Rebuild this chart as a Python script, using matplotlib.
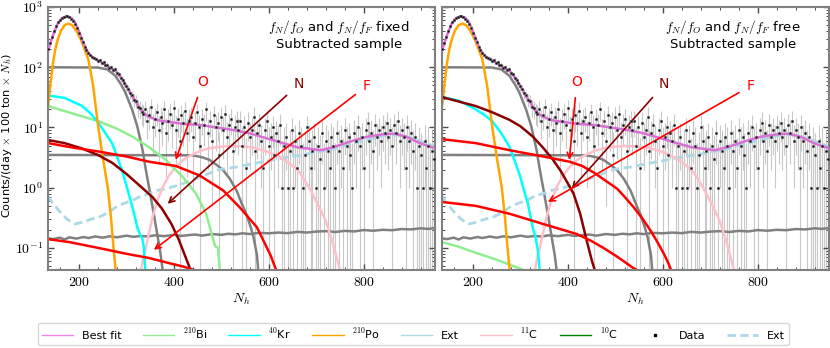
"""
Nh spectrum of the subtracted sample with the fitted components,
f_N/f_O and f_N/f_F fixed (left) and free (right).
"""
import math

import matplotlib

matplotlib.use("Agg")
import matplotlib.pyplot as plt
from matplotlib.lines import Line2D
from matplotlib.ticker import AutoMinorLocator, FixedLocator, FuncFormatter, LogLocator, NullFormatter

plt.rcParams["font.family"] = ["DejaVu Sans"]
plt.rcParams["mathtext.fontset"] = "cm"

# ---- data points (Nh bin, counts, error) ----
data_x = list(range(136, 952, 4))
data_y = [
    200, 250, 320, 400, 480, 560, 620, 660, 690, 710, 700, 680, 640, 590, 520, 450, 370, 310, 260, 220, 190, 170, 158, 150, 142,
    138, 128, 132, 118, 120, 108, 110, 98, 102, 90, 92, 80, 76, 66, 62, 55, 48, 44, 37, 34, 29, 28, 22, 21, 18,
    17, 20, 13, 16, 22, 10, 14, 18, 9, 15, 12, 20, 8, 13, 17, 11, 21, 9, 14, 6, 16, 12, 19, 8, 13,
    15, 7, 12, 18, 10, 5, 14, 11, 20, 8, 13, 6, 16, 10, 12, 3.5, 15, 9, 17, 7, 11, 14, 4, 10, 13,
    9, 13, 5, 10, 2.1, 12, 7, 9, 15, 4, 8, 11, 6, 2.1, 9, 13, 5, 7, 10, 3.5, 8, 6, 11, 1.0, 5,
    7, 1.0, 4, 9, 1.0, 6, 2.1, 8, 5, 1.0, 3.5, 10, 6, 2.1, 4, 7, 1.0, 5, 3, 8, 1.0, 6, 4, 2.1, 7,
    5, 1.0, 8, 4, 6, 2.1, 9, 5, 7, 3.5, 1.0, 8, 6, 10, 5, 7, 2.1, 9, 12, 6, 8, 4, 11, 7, 9,
    6, 10, 8, 12, 7, 9, 5, 11, 8, 13, 6, 9, 7, 2.1, 10, 6, 8, 4, 7, 1.0, 5, 3.5, 1.0, 6, 2.1, 5, 1.0, 4, 3,
]
data_err = [
    14, 16, 18, 20, 22, 24, 25, 26, 26, 27, 26, 26, 25, 24, 23, 21, 19, 18, 16, 15, 14, 13, 12, 12, 12,
    11, 11, 11, 10, 10, 10, 10, 9, 9, 9, 9, 8, 8, 8, 7.5, 7.5, 7, 7, 7, 7, 7, 7, 7, 7, 7,
    7, 7.5, 6.5, 7, 8, 6.5, 7, 7.5, 6.5, 7, 7, 8, 6.5, 7, 7.5, 6.5, 8, 6.5, 7, 6, 7.5, 7, 8, 6.5, 7,
    6.5, 6, 6, 7, 6, 5.5, 6.5, 6, 7, 6, 6, 5.5, 6.5, 6, 6, 5, 6.5, 6, 7, 5.5, 6, 6.5, 5, 6, 6,
    5.5, 6, 5, 5.5, 4.5, 6, 5, 5.5, 6.5, 5, 5, 6, 5, 4.5, 5.5, 6, 5, 5, 5.5, 4.5, 5, 5, 6, 4.5, 5,
    5, 4.5, 5, 5.5, 4.5, 5, 4.5, 5.5, 5, 4.5, 5, 5.5, 5, 4.5, 5, 5, 4.5, 5, 4.5, 5.5, 4.5, 5, 5, 4.5, 5,
    5, 4.5, 5.5, 5, 5, 4.5, 5.5, 5, 5, 4.5, 4.5, 5.5, 5, 6, 5, 5, 4.5, 5.5, 6, 5, 5.5, 5, 6, 5, 5.5,
    5, 6, 5.5, 6, 5, 5.5, 5, 6, 5.5, 6, 5, 5.5, 5, 4.5, 6, 5, 5.5, 5, 5, 4.5, 5, 4.5, 4.5, 5, 4.5, 5, 4.5, 5, 4.5,
]

# ---- fit components shared by both panels ----
fit_x = [135, 145, 155, 165, 175, 183, 190, 198, 206, 214, 222, 230, 241, 252, 263, 277, 288, 298, 305, 312,
         320, 328, 338, 348, 365, 385, 420, 455, 490, 525, 560, 596, 630, 660, 688, 710, 736, 770, 806, 840,
         865, 890, 918, 950]
fit_y = [190, 330, 520, 660, 700, 670, 590, 440, 300, 210, 165, 145, 130, 115, 100, 88, 68, 52, 42, 33,
         27, 21, 17, 15, 13.3, 12.5, 11.5, 11, 10, 9.1, 8, 6.6, 5.5, 4.7, 4.4, 4.2, 4.7, 5.8, 7, 7.7,
         7.9, 7, 5.5, 4.5]

po_x = [135, 140, 145, 150, 155, 162, 170, 178, 186, 195, 205, 213, 220, 230, 241, 251, 261, 268, 273, 278]
po_y = [22, 50, 110, 190, 280, 400, 500, 530, 500, 400, 280, 190, 135, 50, 10, 3, 1, 0.3, 0.1, 0.04]

gray_big_x = [135, 240, 260, 277, 290, 298, 312, 323, 334, 341, 348, 358, 365, 372, 377]
gray_big_y = [100, 99, 92, 72, 50, 38, 20, 10.5, 4.3, 2, 1, 0.36, 0.17, 0.08, 0.04]

gray_mid_x = [135, 440, 460, 475, 490, 504, 518, 532, 545, 553, 562, 568, 575, 578]
gray_mid_y = [3.5, 3.45, 3.2, 2.9, 2.4, 1.95, 1.4, 0.9, 0.5, 0.36, 0.22, 0.15, 0.077, 0.04]

gray_low_x = [135, 145, 160, 170, 180, 195, 210, 220, 235, 250, 265, 280, 300, 315, 330, 345, 360, 380, 400,
              415, 430, 445, 460, 480, 500, 515, 530, 545, 560, 580, 600, 620, 640, 660, 680, 700, 720, 740,
              760, 780, 800, 820, 840, 860, 880, 900, 920, 935, 950]
gray_low_y = [0.145, 0.14, 0.148, 0.138, 0.15, 0.143, 0.152, 0.146, 0.155, 0.148, 0.156, 0.15, 0.16, 0.153,
              0.158, 0.155, 0.162, 0.157, 0.165, 0.158, 0.163, 0.167, 0.16, 0.17, 0.165, 0.172, 0.168, 0.175,
              0.17, 0.178, 0.175, 0.18, 0.176, 0.185, 0.18, 0.187, 0.19, 0.184, 0.192, 0.188, 0.198, 0.193,
              0.2, 0.197, 0.206, 0.203, 0.212, 0.207, 0.214]

c11_x = [330, 335, 341, 348, 355, 365, 376, 390, 404, 420, 440, 460, 480, 510, 540, 570, 600, 625, 645, 665,
         685, 705, 720, 735, 745, 751]
c11_y = [0.04, 0.065, 0.1, 0.18, 0.32, 0.6, 1.0, 1.6, 2.2, 2.9, 3.6, 4.2, 4.6, 4.9, 4.9, 4.6, 3.9, 3.2, 2.5,
         1.8, 1.0, 0.5, 0.28, 0.12, 0.06, 0.04]

ext_x = [135, 145, 160, 175, 192, 210, 225, 241, 260, 277, 295, 312, 330, 348, 365, 383, 400, 419, 436, 454,
         472, 490, 510, 532, 560, 589, 620, 646, 670, 700, 736, 770, 806, 840, 870, 900, 925, 950]
ext_y = [0.72, 0.55, 0.4, 0.3, 0.25, 0.27, 0.3, 0.32, 0.38, 0.47, 0.55, 0.61, 0.72, 0.8, 0.9, 0.96, 1.05,
         1.17, 1.3, 1.5, 1.7, 1.95, 2.1, 2.2, 2.45, 2.7, 3.0, 3.3, 3.5, 3.9, 4.4, 5.3, 6.2, 7.3, 7.6, 6.8,
         5.7, 4.8]

# ---- components that differ between the two fits ----
kr_fixed_x = [135, 170, 206, 225, 241, 256, 270, 281, 291, 300, 309, 316, 323, 330, 334, 337, 340]
kr_fixed_y = [34, 31, 23, 17, 12, 8, 5.5, 3.2, 1.95, 1.1, 0.61, 0.38, 0.22, 0.16, 0.14, 0.1, 0.04]
kr_free_x = [135, 170, 206, 225, 241, 260, 277, 288, 298, 307, 316, 326, 332, 337, 341]
kr_free_y = [32, 28, 20, 16, 12.7, 8, 4.8, 2.8, 1.7, 0.95, 0.54, 0.22, 0.15, 0.09, 0.04]

bi_fixed_x = [135, 170, 206, 241, 277, 312, 348, 383, 419, 447, 468, 482, 487, 493, 497]
bi_fixed_y = [22.7, 18.7, 15.4, 12.7, 9.8, 7.1, 4.7, 2.9, 1.5, 0.79, 0.37, 0.148, 0.107, 0.1, 0.04]
bi_free_x = [135, 170, 206, 240, 277, 300, 315]
bi_free_y = [0.125, 0.105, 0.083, 0.068, 0.053, 0.045, 0.04]

n_fixed_x = [135, 170, 206, 240, 270, 300, 330, 355, 375, 395, 410, 422, 432, 437]
n_fixed_y = [6.2, 5.5, 4.5, 3.5, 2.6, 1.7, 1.05, 0.7, 0.45, 0.25, 0.14, 0.08, 0.05, 0.04]
n_free_x = [135, 170, 206, 240, 277, 300, 326, 348, 369, 385, 397, 412, 426, 440, 451, 458]
n_free_y = [32, 27, 22.7, 18, 13.4, 10.5, 7.1, 4.6, 2.9, 1.9, 1.3, 0.8, 0.37, 0.13, 0.06, 0.04]

o_fixed_x = [135, 190, 241, 300, 348, 404, 454, 504, 539, 575, 603, 617]
o_fixed_y = [5.5, 4.6, 4.0, 3.3, 2.7, 2.3, 1.6, 0.9, 0.47, 0.22, 0.078, 0.04]
o_free_x = [135, 206, 277, 348, 404, 430, 454, 480, 504, 520, 539, 558, 575, 590, 603, 612, 619]
o_free_y = [6.4, 5.5, 4.2, 3.3, 2.7, 2.3, 1.8, 1.3, 0.96, 0.7, 0.47, 0.3, 0.19, 0.12, 0.078, 0.055, 0.04]

f_fixed_x = [135, 180, 241, 300, 348, 390, 420, 447, 455]
f_fixed_y = [0.14, 0.125, 0.1, 0.08, 0.068, 0.056, 0.049, 0.042, 0.04]
f_free_x = [135, 206, 277, 348, 419, 450, 475, 500, 518, 535, 552]
f_free_y = [0.58, 0.5, 0.37, 0.25, 0.17, 0.13, 0.1, 0.075, 0.06, 0.048, 0.04]

# label, text position, arrow tip, colour
marks_fixed = [("O", (461, 56), (404, 2.9), "red"),
               ("N", (663, 52), (387, 0.54), "darkred"),
               ("F", (806, 49), (358, 0.093), "red")]
marks_free = [("O", (419, 56), (403, 2.9), "red"),
              ("N", (603, 52), (408, 0.96), "darkred"),
              ("F", (785, 49), (358, 0.58), "red")]


def draw_panel(ax, kr, bi, n, o, f, note, marks):
    ax.errorbar(data_x, data_y, yerr=data_err, fmt="none", ecolor="#c8c8c8", elinewidth=0.8, zorder=1)

    ax.plot(gray_big_x, gray_big_y, color="gray", lw=1.8, zorder=2)
    ax.plot(gray_mid_x, gray_mid_y, color="gray", lw=1.8, zorder=2)
    ax.plot(gray_low_x, gray_low_y, color="gray", lw=1.8, zorder=2)
    ax.plot(ext_x, ext_y, color="lightblue", lw=2, dashes=(3, 1.6), zorder=2)
    ax.plot(c11_x, c11_y, color="pink", lw=1.8, zorder=2)
    ax.plot(bi[0], bi[1], color="lightgreen", lw=1.8, zorder=2)
    ax.plot(kr[0], kr[1], color="cyan", lw=1.8, zorder=2)
    ax.plot(po_x, po_y, color="orange", lw=1.8, zorder=2)
    ax.plot(n[0], n[1], color="darkred", lw=1.8, zorder=2)
    ax.plot(o[0], o[1], color="red", lw=1.8, zorder=2)
    ax.plot(f[0], f[1], color="red", lw=1.8, zorder=2)
    ax.plot(fit_x, fit_y, color="orchid", lw=1.8, zorder=3)
    ax.plot(data_x, data_y, "s", ms=2.0, mfc="black", mec="0.35", mew=0.4, zorder=4)

    for label, txt, tip, color in marks:
        ax.annotate(label, xy=tip, xytext=txt, color=color, fontsize=10, ha="center", va="center",
                    arrowprops=dict(arrowstyle="->", color=color, lw=1.2, shrinkA=4, shrinkB=0))

    ax.text(0.752, 0.897, note + "\nSubtracted sample", transform=ax.transAxes,
            ha="center", va="center", fontsize=9.5, linespacing=1.2)

    ax.set_yscale("log")
    ax.set_xlim(135, 950)
    ax.set_ylim(0.043, 1000)
    ax.xaxis.set_major_locator(FixedLocator([200, 400, 600, 800]))
    ax.xaxis.set_minor_locator(AutoMinorLocator(5))
    ax.xaxis.set_major_formatter(FuncFormatter(lambda v, p: r"$%d$" % v))
    ax.yaxis.set_major_locator(LogLocator(base=10, numticks=10))
    ax.yaxis.set_minor_locator(LogLocator(base=10, subs=range(2, 10), numticks=20))
    ax.yaxis.set_minor_formatter(NullFormatter())
    ax.tick_params(which="both", direction="in", top=True, right=True, color="0.3", labelsize=10)
    ax.tick_params(which="major", length=4, width=1)
    ax.tick_params(which="minor", length=2, width=0.7)
    for sp in ax.spines.values():
        sp.set_color("0.5")
        sp.set_linewidth(1.5)
    ax.set_xlabel(r"$N_h$", fontsize=10, labelpad=2)


def main():
    fig = plt.figure(figsize=(8.3, 3.48), dpi=100)
    ax1 = fig.add_axes([0.0578, 0.2241, 0.4663, 0.7557])
    ax2 = fig.add_axes([0.5325, 0.2241, 0.4663, 0.7557])

    draw_panel(ax1, (kr_fixed_x, kr_fixed_y), (bi_fixed_x, bi_fixed_y), (n_fixed_x, n_fixed_y),
               (o_fixed_x, o_fixed_y), (f_fixed_x, f_fixed_y),
               r"$f_N/f_O$ and $f_N/f_F$ fixed", marks_fixed)
    draw_panel(ax2, (kr_free_x, kr_free_y), (bi_free_x, bi_free_y), (n_free_x, n_free_y),
               (o_free_x, o_free_y), (f_free_x, f_free_y),
               r"$f_N/f_O$ and $f_N/f_F$ free", marks_free)

    ax1.yaxis.set_major_formatter(FuncFormatter(lambda v, p: r"$10^{%d}$" % round(math.log10(v))))
    ax2.yaxis.set_major_formatter(NullFormatter())
    ax1.set_ylabel(r"Counts/(day $\times$ 100 ton $\times$ $N_h$)", fontsize=8.2)
    ax1.yaxis.set_label_coords(-0.088, 0.51)

    handles = [
        Line2D([], [], color="violet", lw=1),
        Line2D([], [], color="lightgreen", lw=1),
        Line2D([], [], color="cyan", lw=1),
        Line2D([], [], color="orange", lw=1),
        Line2D([], [], color="lightblue", lw=1),
        Line2D([], [], color="pink", lw=1),
        Line2D([], [], color="green", lw=1),
        Line2D([], [], ls="none", marker="s", ms=2, color="black"),
        Line2D([], [], color="lightblue", lw=2, dashes=(3, 1.6)),
    ]
    labels = ["Best fit", r"$^{210}$Bi", r"$^{40}$Kr", r"$^{210}$Po", "Ext", r"$^{11}$C", r"$^{10}$C", "Data", "Ext"]
    fig.legend(handles, labels, loc="center", bbox_to_anchor=(0.498, 0.04), ncol=9,
               fontsize=8, frameon=True, fancybox=True, edgecolor="0.8", handlelength=2.8,
               columnspacing=1.9, borderpad=0.35)

    fig.savefig("out.png", dpi=100)
    plt.close(fig)


if __name__ == "__main__":
    main()
